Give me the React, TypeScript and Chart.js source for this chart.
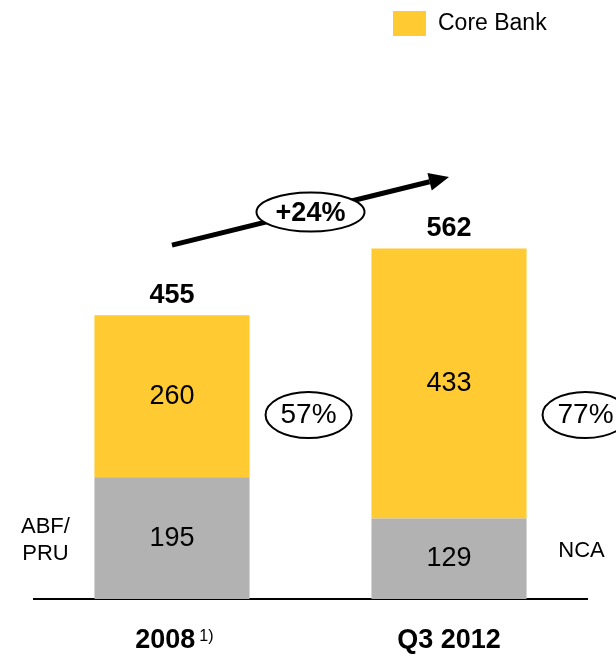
import { useEffect, useRef } from "react";
import { Chart, registerables } from "chart.js";

Chart.register(...registerables);

// ---- data ----
const categories = ["2008", "Q3 2012"];
const footnotes = ["1)", ""];
const nonCoreValues = [195, 129];
const coreBankValues = [260, 433];
const totals = [455, 562];
const coreSharePct = [57, 77];
const nonCoreSideLabels = [["ABF/", "PRU"], ["NCA"]];
const growthLabel = "+24%";
const legendLabel = "Core Bank";

const YELLOW = "#FFCA32";
const GRAY = "#B2B2B2";
const FONT = "'Liberation Sans', Arial, Helvetica, sans-serif";

function ellipse(ctx: CanvasRenderingContext2D, cx: number, cy: number, rx: number, ry: number) {
  ctx.beginPath();
  ctx.ellipse(cx, cy, rx, ry, 0, 0, Math.PI * 2);
  ctx.fillStyle = "#fff";
  ctx.fill();
  ctx.lineWidth = 2;
  ctx.strokeStyle = "#000";
  ctx.stroke();
}

const annotationsPlugin = {
  id: "annotations",
  afterDatasetsDraw(chart: any) {
    const ctx: CanvasRenderingContext2D = chart.ctx;
    const yScale = chart.scales.y;
    const xScale = chart.scales.x;
    const gray = chart.getDatasetMeta(0).data;
    const core = chart.getDatasetMeta(1).data;
    ctx.save();
    ctx.fillStyle = "#000";
    ctx.textAlign = "center";
    ctx.textBaseline = "middle";

    // segment values
    ctx.font = `27px ${FONT}`;
    gray.forEach((el: any, i: number) => {
      ctx.fillText(String(nonCoreValues[i]), el.x, (el.y + el.base) / 2);
    });
    core.forEach((el: any, i: number) => {
      ctx.fillText(String(coreBankValues[i]), el.x, (el.y + el.base) / 2);
    });

    // totals
    ctx.font = `bold 27px ${FONT}`;
    core.forEach((el: any, i: number) => {
      ctx.fillText(String(totals[i]), el.x, el.y - 20);
    });

    // side labels for the grey segments
    ctx.font = `22px ${FONT}`;
    {
      const el = gray[0];
      const cx = el.x - el.width / 2 - 49;
      const cy = (el.y + el.base) / 2 + 2;
      const lines = nonCoreSideLabels[0];
      const lh = 27;
      lines.forEach((t, k) => {
        ctx.fillText(t, cx, cy + (k - (lines.length - 1) / 2) * lh);
      });
    }
    {
      const el = gray[1];
      const cx = el.x + el.width / 2 + 55;
      const cy = (el.y + el.base) / 2 - 8;
      ctx.fillText(nonCoreSideLabels[1][0], cx, cy);
    }

    // core share ellipses
    core.forEach((el: any, i: number) => {
      const cx = el.x + el.width / 2 + 59;
      const cy = yScale.getPixelForValue(295);
      ellipse(ctx, cx, cy, 43, 23);
      ctx.fillStyle = "#000";
      ctx.font = `28px ${FONT}`;
      ctx.fillText(`${coreSharePct[i]}%`, cx, cy);
    });

    // growth arrow
    const x0 = core[0].x;
    const y0 = core[0].y - 70;
    const x1 = core[1].x;
    const y1 = core[1].y - 71.5;
    const ang = Math.atan2(y1 - y0, x1 - x0);
    const headLen = 20;
    const headHalf = 9;
    const bx = x1 - Math.cos(ang) * headLen;
    const by = y1 - Math.sin(ang) * headLen;
    ctx.strokeStyle = "#000";
    ctx.lineWidth = 5;
    ctx.beginPath();
    ctx.moveTo(x0, y0);
    ctx.lineTo(bx, by);
    ctx.stroke();
    ctx.beginPath();
    ctx.moveTo(x1, y1);
    ctx.lineTo(bx + Math.sin(ang) * headHalf, by - Math.cos(ang) * headHalf);
    ctx.lineTo(bx - Math.sin(ang) * headHalf, by + Math.cos(ang) * headHalf);
    ctx.closePath();
    ctx.fillStyle = "#000";
    ctx.fill();

    const mx = (x0 + x1) / 2;
    const my = (y0 + y1) / 2 + 1;
    ellipse(ctx, mx, my, 54, 19.5);
    ctx.fillStyle = "#000";
    ctx.font = `bold 27px ${FONT}`;
    ctx.fillText(growthLabel, mx, my + 1);

    // footnote superscript on the x labels
    ctx.font = `bold 27px ${FONT}`;
    categories.forEach((c, i) => {
      if (!footnotes[i]) return;
      const label = c + "\u2002";
      const total = ctx.measureText(label).width;
      const w = ctx.measureText(c).width;
      const start = xScale.getPixelForTick(i) - total / 2;
      ctx.font = `16px ${FONT}`;
      ctx.textAlign = "left";
      ctx.fillText(footnotes[i], start + w + 4, chart.chartArea.bottom + 38);
      ctx.font = `bold 27px ${FONT}`;
      ctx.textAlign = "center";
    });

    // legend (core bank only)
    ctx.fillStyle = YELLOW;
    ctx.fillRect(chart.width - 223, 11, 33, 25);
    ctx.fillStyle = "#000";
    ctx.font = `23px ${FONT}`;
    ctx.textAlign = "left";
    ctx.fillText(legendLabel, chart.width - 178, 24);

    ctx.restore();
  },
};

export default function App() {
  const ref = useRef<HTMLCanvasElement | null>(null);

  useEffect(() => {
    if (!ref.current) return;
    const chart = new Chart(ref.current, {
      type: "bar",
      data: {
        labels: categories,
        datasets: [
          {
            label: "Non-core",
            data: nonCoreValues,
            backgroundColor: GRAY,
            borderWidth: 0,
            barPercentage: 1,
            categoryPercentage: 0.56,
          },
          {
            label: legendLabel,
            data: coreBankValues,
            backgroundColor: YELLOW,
            borderWidth: 0,
            barPercentage: 1,
            categoryPercentage: 0.56,
          },
        ],
      },
      options: {
        responsive: false,
        animation: false,
        events: [],
        layout: { padding: { top: 100, left: 33.5, right: 28.5, bottom: 0 } },
        plugins: {
          legend: { display: false },
          tooltip: { enabled: false },
        },
        scales: {
          x: {
            stacked: true,
            grid: { display: false, drawTicks: false },
            border: { display: true, color: "#000", width: 2 },
            afterFit: (scale: any) => {
              scale.height = 57;
            },
            ticks: {
              color: "#000",
              padding: 25,
              font: { family: FONT, size: 27, weight: "bold" },
              callback: (_v: any, i: number) => categories[i] + (footnotes[i] ? "\u2002" : ""),
            },
          },
          y: {
            stacked: true,
            display: false,
            min: 0,
            max: 800,
          },
        },
      },
      plugins: [annotationsPlugin],
    });
    return () => chart.destroy();
  }, []);

  return (
    <div style={{ position: "absolute", left: 0, top: 0, width: 616, height: 656, background: "#fff" }}>
      <canvas ref={ref} width={616} height={656} style={{ display: "block" }} />
    </div>
  );
}
